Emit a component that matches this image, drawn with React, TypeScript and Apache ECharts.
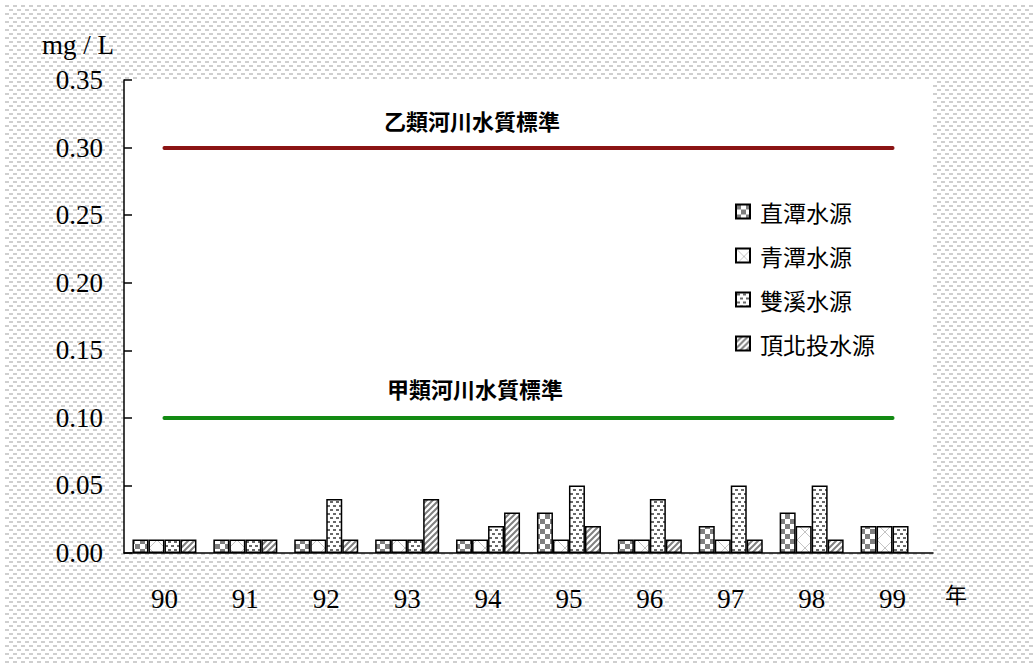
import React, { useEffect, useRef } from "react";
import * as echarts from "echarts";

// 年度 (民國)
const years = ["90", "91", "92", "93", "94", "95", "96", "97", "98", "99"];

// 各水源總磷濃度 (mg/L)
const zhitan = [0.01, 0.01, 0.01, 0.01, 0.01, 0.03, 0.01, 0.02, 0.03, 0.02];
const qingtan = [0.01, 0.01, 0.01, 0.01, 0.01, 0.01, 0.01, 0.01, 0.02, 0.02];
const shuangxi = [0.01, 0.01, 0.04, 0.01, 0.02, 0.05, 0.04, 0.05, 0.05, 0.02];
const dingbeitou = [0.01, 0.01, 0.01, 0.04, 0.03, 0.02, 0.01, 0.01, 0.01, null];

const seriesNames = ["直潭水源", "青潭水源", "雙溪水源", "頂北投水源"];

// 河川水質標準
const classA = { name: "甲類河川水質標準", value: 0.1 };
const classB = { name: "乙類河川水質標準", value: 0.3 };

const yMin = 0;
const yMax = 0.35;
const yStep = 0.05;

const SERIF = "'Liberation Serif', 'Times New Roman', serif";
const CJK = "'Noto Sans CJK TC', 'Noto Sans CJK SC', sans-serif";

function makeTile(w: number, h: number, draw: (ctx: CanvasRenderingContext2D) => void) {
  const c = document.createElement("canvas");
  c.width = w;
  c.height = h;
  const ctx = c.getContext("2d") as CanvasRenderingContext2D;
  ctx.fillStyle = "#ffffff";
  ctx.fillRect(0, 0, w, h);
  draw(ctx);
  return c;
}

function checkerTile() {
  return makeTile(10, 10, (ctx) => {
    ctx.fillStyle = "#808080";
    ctx.fillRect(0, 0, 5, 5);
    ctx.fillRect(5, 5, 5, 5);
  });
}

function crossTile() {
  return makeTile(16, 16, (ctx) => {
    ctx.strokeStyle = "#c4c4c4";
    ctx.lineWidth = 1;
    ctx.beginPath();
    ctx.moveTo(0, 0);
    ctx.lineTo(16, 16);
    ctx.moveTo(16, 0);
    ctx.lineTo(0, 16);
    ctx.stroke();
  });
}

function dashTile() {
  return makeTile(6, 8, (ctx) => {
    ctx.fillStyle = "#6a6a6a";
    ctx.fillRect(1, 1, 3, 2);
    ctx.fillRect(4, 5, 3, 2);
    ctx.fillRect(-2, 5, 3, 2);
  });
}

function stripeTile() {
  return makeTile(6, 6, (ctx) => {
    ctx.strokeStyle = "#808080";
    ctx.lineWidth = 2;
    ctx.beginPath();
    for (const k of [-6, 0, 6]) {
      ctx.moveTo(k - 1, 7);
      ctx.lineTo(k + 7, -1);
    }
    ctx.stroke();
  });
}

function backgroundTile() {
  return makeTile(8, 8, (ctx) => {
    ctx.fillStyle = "#cfcfcf";
    ctx.fillRect(0, 1, 4, 2);
    ctx.fillRect(4, 5, 4, 2);
  });
}

export default function App() {
  const ref = useRef<HTMLDivElement>(null);

  useEffect(() => {
    const el = ref.current;
    if (!el) return;
    el.style.backgroundImage = `url(${backgroundTile().toDataURL()})`;

    const chart = echarts.init(el, undefined, { renderer: "svg" });

    const fills = [checkerTile(), crossTile(), dashTile(), stripeTile()];
    const values = [zhitan, qingtan, shuangxi, dingbeitou];

    const barSeries: any[] = seriesNames.map((name, i) => ({
      name,
      type: "bar",
      data: values[i].map((v) => (v === null ? "-" : v)),
      barWidth: 16,
      barGap: "0%",
      itemStyle: {
        color: { image: fills[i], repeat: "repeat" },
        borderColor: "#000",
        borderWidth: 1.5,
      },
      emphasis: { disabled: true },
    }));

    const standardLine = (std: { name: string; value: number }, color: string) => [
      { coord: [years[0], std.value], lineStyle: { color } },
      { coord: [years[years.length - 1], std.value] },
    ];

    // 標準線：以無資料的折線系列承載，使端點落在類別中心
    const standardSeries = {
      name: "標準",
      type: "line",
      data: [],
      silent: true,
      markLine: {
        symbol: ["none", "none"],
        silent: true,
        label: { show: false },
        lineStyle: { width: 4, type: "solid", cap: "round" },
        data: [standardLine(classB, "#8b1414"), standardLine(classA, "#138a13")],
      },
    };

    chart.setOption({
      animation: false,
      grid: {
        left: 119,
        top: 76,
        width: 809,
        height: 473,
        show: true,
        backgroundColor: "#ffffff",
        borderWidth: 0,
      },
      legend: {
        orient: "vertical",
        left: 725,
        top: 191,
        itemWidth: 14,
        itemHeight: 14,
        itemGap: 21,
        icon: "rect",
        selectedMode: false,
        data: seriesNames,
        textStyle: {
          fontFamily: CJK,
          fontSize: 23,
          color: "#000",
          lineHeight: 22,
          padding: [0, 0, 0, 5],
        },
      },
      xAxis: {
        type: "category",
        data: years,
        axisLine: { lineStyle: { color: "#000", width: 1.5 } },
        axisTick: {
          inside: true,
          length: 8,
          alignWithLabel: false,
          lineStyle: { color: "#000", width: 1.5 },
        },
        axisLabel: {
          fontFamily: SERIF,
          fontSize: 27,
          color: "#000",
          margin: 32,
        },
        splitLine: { show: false },
      },
      yAxis: {
        type: "value",
        min: yMin,
        max: yMax,
        interval: yStep,
        axisLine: { show: true, lineStyle: { color: "#000", width: 1.5 } },
        axisTick: {
          show: true,
          inside: true,
          length: 8,
          lineStyle: { color: "#000", width: 1.5 },
        },
        axisLabel: {
          fontFamily: SERIF,
          fontSize: 27,
          color: "#000",
          margin: 21,
          formatter: (v: number) => v.toFixed(2),
        },
        splitLine: { show: false },
      },
      graphic: [
        {
          type: "text",
          left: 37,
          top: 27,
          style: { text: "mg / L", font: `27px ${SERIF}`, fill: "#000" },
        },
        {
          type: "text",
          x: 940,
          y: 578,
          style: { text: "年", font: `22px ${CJK}`, fill: "#000" },
        },
        {
          type: "text",
          x: 467,
          y: 116,
          style: {
            text: classB.name,
            font: `bold 22px ${CJK}`,
            fill: "#000",
            align: "center",
            verticalAlign: "middle",
          },
        },
        {
          type: "text",
          x: 470,
          y: 384,
          style: {
            text: classA.name,
            font: `bold 22px ${CJK}`,
            fill: "#000",
            align: "center",
            verticalAlign: "middle",
          },
        },
      ],
      series: [...barSeries, standardSeries],
    });

    return () => chart.dispose();
  }, []);

  return (
    <div
      ref={ref}
      style={{
        position: "fixed",
        left: 5,
        top: 4,
        width: 1028,
        height: 660,
        backgroundColor: "#ffffff",
        backgroundRepeat: "repeat",
      }}
    />
  );
}
